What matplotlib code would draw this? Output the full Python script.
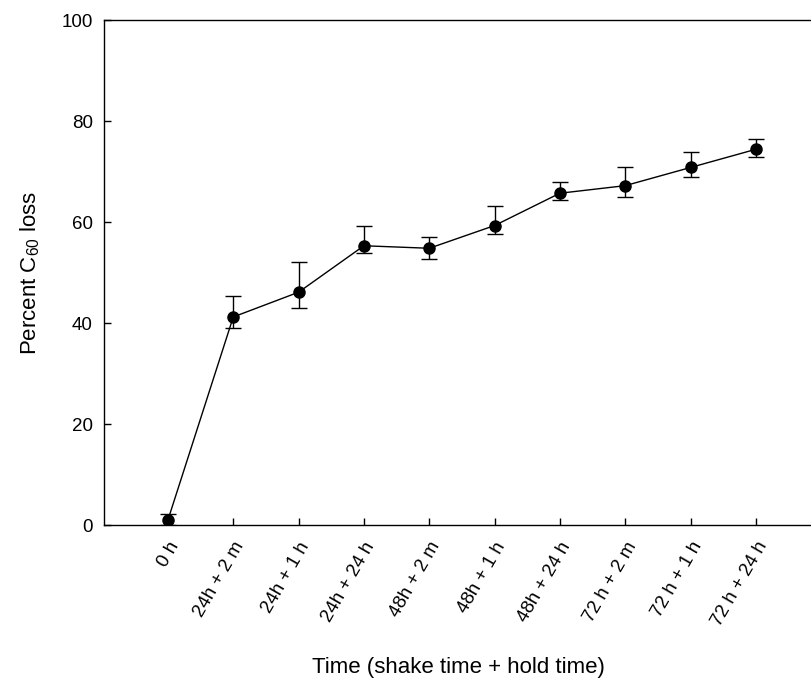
import numpy as np
import matplotlib
matplotlib.use("Agg")
import matplotlib.pyplot as plt

plt.rcParams['font.family'] = ['Liberation Sans', 'DejaVu Sans']
plt.rcParams['mathtext.fontset'] = 'custom'
plt.rcParams['mathtext.rm'] = 'Liberation Sans'

# данные
labels = ["0 h", "24h + 2 m", "24h + 1 h", "24h + 24 h", "48h + 2 m",
          "48h + 1 h", "48h + 24 h", "72 h + 2 m", "72 h + 1 h", "72 h + 24 h"]
loss = [1.0, 41.2, 46.1, 55.3, 54.8, 59.3, 65.7, 67.2, 70.8, 74.4]
err_low = [1.0, 2.1, 3.1, 1.4, 2.1, 1.7, 1.3, 2.2, 1.9, 1.5]
err_high = [1.2, 4.1, 5.9, 4.0, 2.3, 3.9, 2.2, 3.7, 3.1, 2.1]

x = np.arange(len(labels))

fig = plt.figure(figsize=(8.12, 6.79), dpi=100)
ax = fig.add_axes([0.128, 0.2268, 0.872, 0.7437])

ax.errorbar(x, loss, yerr=[err_low, err_high], color="black", lw=1.0,
            marker="o", markersize=8, capsize=6, elinewidth=1.0, capthick=1.0)

ax.set_xlim(-0.98, 9.86)
ax.set_ylim(0, 100)
ax.set_yticks([0, 20, 40, 60, 80, 100])
ax.set_xticks(x)
ax.set_xticklabels(labels, rotation=60, ha="right", rotation_mode="anchor")
ax.tick_params(direction="in", length=5, width=1, labelsize=13.5)
ax.tick_params(axis="y", pad=8)
ax.tick_params(axis="x", pad=10)
ax.spines["right"].set_visible(False)
for s in ["left", "bottom", "top"]:
    ax.spines[s].set_linewidth(1.0)

ax.set_ylabel("Percent C$_{60}$ loss", fontsize=16, labelpad=14)
ax.set_xlabel("Time (shake time + hold time)", fontsize=16, labelpad=20)

fig.savefig("out.png", dpi=100)
